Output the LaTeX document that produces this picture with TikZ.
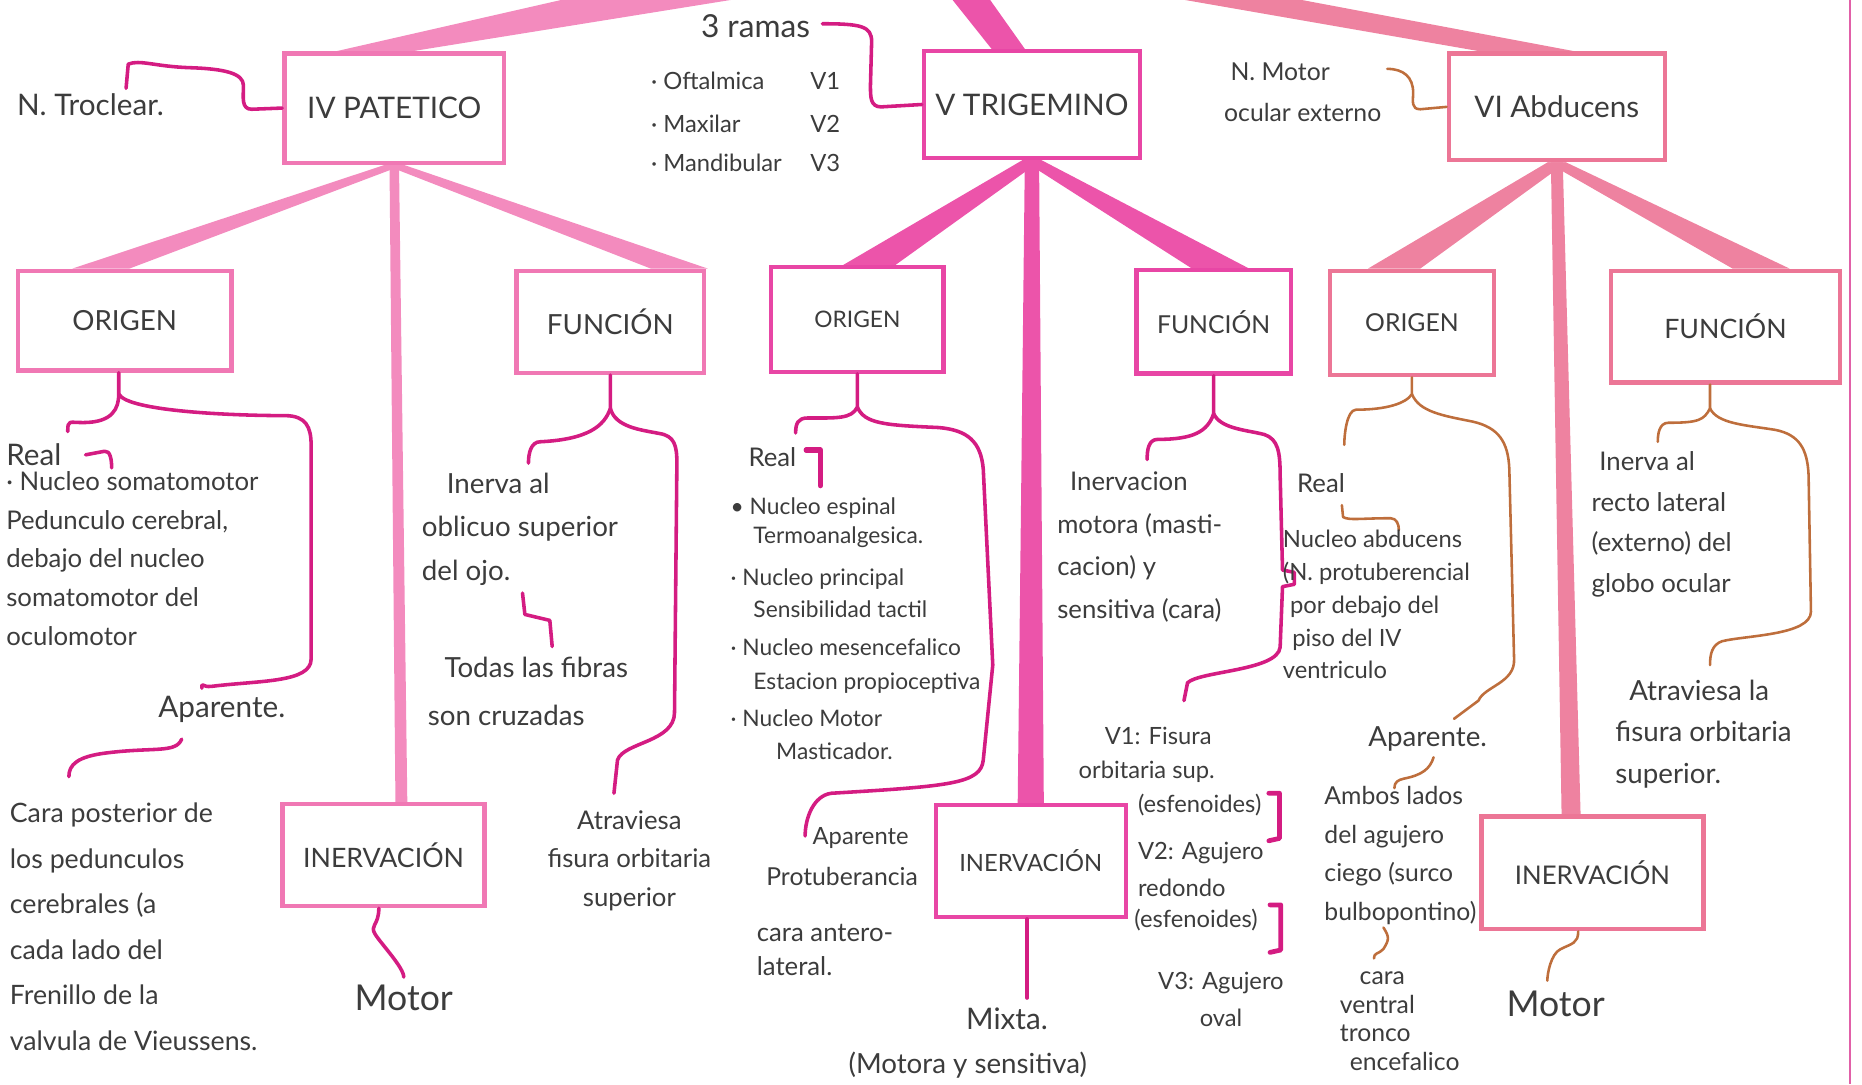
\documentclass[tikz,border=0pt]{standalone}
\usepackage{fontspec}
\setmainfont{Lato}
\usetikzlibrary{calc,backgrounds}

\definecolor{lnA}{RGB}{243,139,190}
\definecolor{lnB}{RGB}{236,84,170}
\definecolor{lnC}{RGB}{238,130,160}
\definecolor{boxA}{RGB}{240,120,180}
\definecolor{boxB}{RGB}{232,70,165}
\definecolor{boxC}{RGB}{236,118,150}
\definecolor{magC}{RGB}{212,28,130}
\definecolor{brnC}{RGB}{190,110,60}
\definecolor{ink}{RGB}{60,60,60}

\newcommand{\fsz}[2]{\fontsize{#1}{#2}\selectfont}
% thick hand-drawn branch: colour, from, to, x-offset at target, half width at start, half width at end
\newcommand{\limb}[6]{\fill[#1] ($(#2)+(-#5,0)$) -- ($(#2)+(#5,0)$) -- ($(#3)+(#4+#6,0)$) -- ($(#3)+(#4-#6,0)$) -- cycle;}

\begin{document}
\begin{tikzpicture}[x=0.6pt,y=-0.6pt,
    bx/.style n args={2}{draw,line width=2.2pt,fill=white,text=ink,inner sep=0pt,
      minimum width=#1*0.6pt,minimum height=#2*0.6pt},
    txt/.style={text=ink,inner sep=0pt,anchor=west,align=left,font=\fsz{13}{19.5}},
    sm/.style={txt,font=\fsz{11.5}{17}},
    bm/.style={draw=magC,line width=1.8pt,line cap=round,line join=round},
    bb/.style={draw=brnC,line width=1.3pt,line cap=round,line join=round}]
  \useasboundingbox (0,0) rectangle (1568,913);

  % the three nerves
  \node[bx={185}{92},draw=boxA,font=\fsz{15}{18}] (p4) at (332,91) {IV\ PATETICO};
  \node[bx={182}{90},draw=boxB,font=\fsz{15}{18}] (p5) at (869,88) {V\ TRIGEMINO};
  \node[bx={182}{90},draw=boxC,font=\fsz{15}{18}] (p6) at (1311,90) {VI\ Abducens};
  \coordinate (t4) at (565,-4);
  \coordinate (t5) at (815,-4);
  \coordinate (t6) at (1025,-4);

  % second level
  \node[bx={180}{84},draw=boxA,font=\fsz{14}{16}] (o4) at (105,270) {ORIGEN};
  \node[bx={158}{86},draw=boxA,font=\fsz{14}{16}] (f4) at (514,271) {FUNCIÓN};
  \node[bx={170}{86},draw=boxA,font=\fsz{13.5}{16}] (i4) at (323,720) {INERVACIÓN};
  \node[bx={145}{88},draw=boxB,font=\fsz{11.5}{14}] (o5) at (722,269) {ORIGEN};
  \node[bx={130}{87},draw=boxB,font=\fsz{12.5}{14}] (f5) at (1022,271) {FUNCIÓN};
  \node[bx={160}{94},draw=boxB,font=\fsz{12}{14}] (i5) at (868,725) {INERVACIÓN};
  \node[bx={138}{88},draw=boxC,font=\fsz{12.5}{14}] (o6) at (1189,272) {ORIGEN};
  \node[bx={193}{94},draw=boxC,font=\fsz{13.5}{16}] (f6) at (1453,275) {FUNCIÓN};
  \node[bx={187}{95},draw=boxC,font=\fsz{13}{16}] (i6) at (1341,735) {INERVACIÓN};

  \begin{scope}[on background layer]
    \limb{lnA}{t4}{p4.north}{-17}{75}{32}
    \limb{lnB}{t5}{p5.north}{-20}{16}{14}
    \limb{lnC}{t6}{p6.north}{-25}{50}{40}
    \limb{lnA}{p4.south}{o4.north}{-20}{8}{24}
    \limb{lnA}{p4.south}{f4.north}{58}{8}{24}
    \limb{lnA}{p4.south}{i4.north}{15}{4}{5}
    \limb{lnB}{p5.south}{o5.north}{10}{8}{22}
    \limb{lnB}{p5.south}{f5.north}{5}{8}{24}
    \limb{lnB}{p5.south}{i5.north}{0}{6}{11}
    \limb{lnC}{p6.south}{o6.north}{-15}{8}{22}
    \limb{lnC}{p6.south}{f6.north}{30}{8}{24}
    \limb{lnC}{p6.south}{i6.north}{-18}{5}{8}
  \end{scope}
  \draw[magC!70,line width=1.2pt] (1558,0) -- (1558,913);

  % side notes
  \node[txt,font=\fsz{15}{18}] (ntr) at (14,88) {N. Troclear.};
  \draw[bm] (p4.west) -- (212,92) .. controls (203,92) and (205,82) .. (205,72)
    .. controls (205,62) and (190,58) .. (160,57) .. controls (130,56) and (118,50) .. (108,54)
    -- ($(ntr.north)+(30,-4)$);
  \node[txt,font=\fsz{16}{18}] (ram) at (590,22) {3 ramas};
  \draw[bm] (p5.west) -- (742,90) .. controls (733,90) and (733,82) .. (733,72) -- (734,35)
    .. controls (734,22) and (725,20) .. ($(ram.east)+(10,-2)$);
  \foreach \i/\nm/\v/\y in {1/Oftalmica/V1/68, 2/Maxilar/V2/104, 3/Mandibular/V3/137} {
    \node[sm,font=\fsz{12}{14}] (rm\i) at (548,\y) {· \nm};
    \node[sm,font=\fsz{12}{14}] (rv\i) at (682,\y) {\v};
  }
  \node[sm,anchor=center,font=\fsz{12.5}{14}] (nmo) at (1078,60) {N. Motor};
  \node[sm,anchor=center,font=\fsz{12.5}{14}] (nmo2) at (1097,95) {ocular externo};
  \draw[bb] (p6.west) -- (1196,92) .. controls (1188,92) and (1190,85) .. (1190,78)
    .. controls (1190,65) and (1182,58) .. ($(nmo.east)+(48,-2)$);

  % IV origen
  \node[txt,font=\fsz{15}{18}] (re4) at (5,383) {Real};
  \draw[bm] ($(re4.east)+(20,0)$) -- ++(16,-3) .. controls +(5,-1) and +(0,-6) .. ++(6,14);
  \node[txt,anchor=north west] (re4t) at (5,397) {· Nucleo somatomotor\\Pedunculo cerebral,\\debajo del nucleo\\somatomotor del\\oculomotor};
  \node[txt,font=\fsz{15}{18}] (ap4) at (133,597) {Aparente.};
  \node[txt,anchor=north west,font=\fsz{13.5}{23}] (ap4t) at (8,676) {Cara posterior de\\los pedunculos\\cerebrales (a\\cada lado del\\Frenillo de la\\valvula de Vieussens.};
  \draw[bm] (o4.south) ++(-5,0) -- ++(0,18) .. controls +(0,12) and +(25,0) .. ++(-30,24)
    .. controls +(-12,0) and +(0,-10) .. ($(re4.north east)+(5,-10)$);
  \draw[bm] (o4.south) ++(-5,18) .. controls +(8,15) and +(-40,0) .. (240,350)
    .. controls +(18,0) and +(0,-15) .. (262,375) -- (262,555)
    .. controls +(0,20) and +(40,-5) .. (178,578) .. controls +(-8,1) and +(0,-6) .. ($(ap4.north west)+(37,-6)$);
  \draw[bm] ($(ap4.south west)+(20,14)$) .. controls +(-5,12) and +(40,-5) .. (90,634)
    .. controls +(-25,3) and +(0,-10) .. ($(ap4t.north west)+(50,-22)$);

  % IV funcion
  \node[txt,anchor=north west,font=\fsz{14}{22}] (fn4) at (355,398) {\hspace*{0.9em}Inerva al\\oblicuo superior\\del ojo.};
  \draw[bm] (f4.south) -- ++(0,28) .. controls +(-5,15) and +(40,-2) .. (455,372)
    .. controls +(-8,0) and +(0,-8) .. ($(fn4.north west)+(90,-8)$);
  \draw[bm] (f4.south) ++(0,28) .. controls +(4,16) and +(-15,-3) .. (555,365)
    .. controls +(13,2) and +(0,-15) .. (570,390) -- (568,600)
    .. controls +(0,25) and +(5,-15) .. (520,640) -- (517,668);
  \draw[bm] ($(fn4.south west)+(85,6)$) -- ++(2,18) -- ++(21,5) -- ++(2,22);
  \node[txt,anchor=north west,font=\fsz{14}{24}] (tf4) at (360,553) {\hspace*{0.6em}Todas las fibras\\son cruzadas};
  \node[txt,anchor=north,align=center] (at4) at (530,682) {Atraviesa\\fisura orbitaria\\superior};

  % IV inervacion
  \node[txt,anchor=center,font=\fsz{18}{20}] (mo4) at (340,840) {Motor};
  \draw[bm] (i4.south) ++(-4,0) .. controls +(0,15) and +(-5,-8) .. ++(-3,22)
    .. controls +(5,8) and +(0,-8) .. ($(mo4.north)+(0,-6)$);

  % V origen
  \node[sm,font=\fsz{13}{15}] (re5) at (630,385) {Real};
  \draw[bm,line width=2.6pt] ($(re5.east)+(8,-6)$) -- ++(12,0) -- ++(0,30);
  \foreach \i/\y/\t in {1/428/{• Nucleo espinal}, 2/452/{\quad Termoanalgesica.},
      3/488/{· Nucleo principal}, 4/513/{\quad Sensibilidad tactil},
      5/545/{· Nucleo mesencefalico}, 6/575/{\quad Estacion propioceptiva},
      7/605/{· Nucleo Motor}, 8/633/{\qquad Masticador.}}
    \node[sm] (n5\i) at (615,\y) {\t};
  \node[sm,font=\fsz{12}{14}] (ap5) at (684,706) {Aparente};
  \node[sm,font=\fsz{12.5}{14}] (pr5) at (645,738) {Protuberancia};
  \node[txt,anchor=north west,font=\fsz{13}{17}] (ca5) at (637,778) {cara antero-\\lateral.};
  \draw[bm] (o5.south) -- ++(0,28) .. controls +(-5,10) and +(25,0) .. (680,352)
    .. controls +(-8,0) and +(0,-8) .. ($(re5.north west)+(40,-12)$);
  \draw[bm] (o5.south) ++(0,28) .. controls +(6,14) and +(-45,-2) .. (790,360)
    .. controls +(25,2) and +(-2,-23) .. (828,395) -- (836,560) -- (828,640)
    .. controls +(-2,20) and +(100,-6) .. (700,668) .. controls +(-15,2) and +(0,-15) .. ($(ap5.west)+(-6,-2)$);

  % V funcion
  \node[txt,anchor=north west,font=\fsz{13}{21.5}] (fn5) at (890,397) {\hspace*{0.5em}Inervacion\\motora (masti-\\cacion) y\\sensitiva (cara)};
  \draw[bm] (f5.south) -- ++(0,32) .. controls +(-5,15) and +(30,0) .. (975,370)
    .. controls +(-8,0) and +(0,-8) .. ($(fn5.north west)+(76,-10)$);
  \draw[bm] (f5.south) ++(0,32) .. controls +(6,13) and +(-15,-4) .. (1065,366)
    .. controls +(11,4) and +(0,-20) .. (1078,400) -- (1080,480) -- (1090,482) -- (1090,492)
    -- (1080,494) -- (1078,545) .. controls +(-2,20) and +(10,-10) .. (1000,575) -- (997,590);
  \foreach \i/\x/\y/\t in {1/930/620/{V1: Fisura}, 2/908/650/{orbitaria sup.},
      3/958/678/{(esfenoides)}, 4/958/718/{V2: Agujero}, 5/958/748/{redondo},
      6/955/775/{(esfenoides)}, 7/975/828/{V3: Agujero}, 8/1010/857/{oval}}
    \node[sm,font=\fsz{12}{14}] (v5\i) at (\x,\y) {\t};
  \draw[bm,line width=2.4pt] ($(v53.east)+(6,-10)$) -- ++(9,0) -- ++(0,38) -- ++(-9,2);
  \draw[bm,line width=2.4pt] ($(v56.east)+(10,-13)$) -- ++(9,0) -- ++(0,38) -- ++(-9,2);

  % V inervacion
  \node[txt,anchor=center,font=\fsz{15}{18}] (mx5) at (848,858) {Mixta.};
  \node[txt,anchor=center,font=\fsz{14}{18}] (ms5) at (815,897) {(Motora y sensitiva)};
  \draw[bm] (i5.south) ++(-3,0) -- ($(i5.south |- mx5.north)+(-3,-8)$);

  % VI origen
  \node[txt] (re6) at (1092,407) {Real};
  \draw[bb] ($(re6.south west)+(38,10)$) -- ++(1,10) .. controls +(5,3) and +(-25,0) .. ++(40,1)
    .. controls +(5,0) and +(0,-5) .. ++(7,10);
  \node[sm,anchor=north west,font=\fsz{12}{16.6}] (nb6) at (1080,446) {Nucleo abducens\\(N. protuberencial\\\hspace*{0.3em}por debajo del\\\hspace*{0.4em}piso del IV\\ventriculo};
  \node[sm,font=\fsz{14}{16}] (ap6) at (1152,622) {Aparente.};
  \draw[bb] (o6.south) -- ++(0,14) .. controls +(-5,8) and +(25,0) .. (1142,345)
    .. controls +(-8,0) and +(0,-8) .. ($(re6.north west)+(40,-24)$);
  \draw[bb] (o6.south) ++(0,14) .. controls +(6,15) and +(-25,-5) .. (1240,355)
    .. controls +(22,5) and +(-1,-23) .. (1271,395) -- (1275,555)
    .. controls +(1,20) and +(5,-12) .. (1245,590) -- ($(ap6.north east)+(-28,-6)$);
  \draw[bb] ($(ap6.south)+(5,5)$) .. controls +(-3,10) and +(15,-3) .. ++(-25,18)
    .. controls +(-5,1) and +(0,-5) .. ++(-8,8);
  \node[sm,anchor=north west,font=\fsz{12.5}{19.5}] (am6) at (1115,662) {Ambos lados\\del agujero\\ciego (surco\\bulbopontino)};
  \draw[bb] ($(am6.south west)+(50,2)$) .. controls +(5,8) and +(5,-8) .. ++(0,18)
    .. controls +(-5,5) and +(0,-5) .. ++(-8,8);
  \node[sm,anchor=north west,font=\fsz{12.5}{14.4}] (cv6) at (1128,818) {\hspace*{0.8em}cara\\ventral\\tronco\\\hspace*{0.4em}encefalico};

  % VI funcion
  \node[txt,anchor=north west,font=\fsz{13}{20.5}] (fn6) at (1340,380) {\hspace*{0.3em}Inerva al\\recto lateral\\(externo) del\\globo ocular};
  \node[txt,anchor=north west,font=\fsz{14}{21}] (at6) at (1360,572) {\hspace*{0.5em}Atraviesa la\\fisura orbitaria\\superior.};
  \draw[bb] (f6.south) ++(-13,0) -- ++(0,20) .. controls +(-5,10) and +(25,0) .. (1405,356)
    .. controls +(-8,0) and +(0,-6) .. ($(fn6.north west)+(56,-8)$);
  \draw[bb] (f6.south) ++(-13,20) .. controls +(6,13) and +(-25,-4) .. (1495,362)
    .. controls +(20,4) and +(-1,-22) .. (1523,400) -- (1525,515)
    .. controls +(0,20) and +(20,-5) .. (1450,540) .. controls +(-8,3) and +(0,-10) .. ($(at6.north west)+(80,-12)$);

  % VI inervacion
  \node[txt,anchor=center,font=\fsz{18}{20}] (mo6) at (1310,845) {Motor};
  \draw[bb] (i6.south) ++(-12,0) .. controls +(0,10) and +(10,-5) .. ++(-15,15)
    .. controls +(-8,4) and +(0,-6) .. ($(mo6.north)+(-7,-8)$);
\end{tikzpicture}
\end{document}
